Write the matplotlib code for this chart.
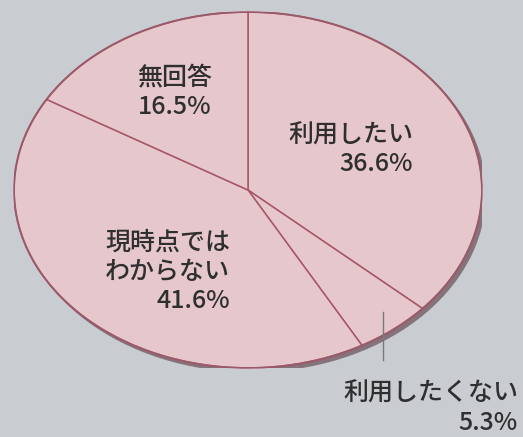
import numpy as np
import matplotlib
matplotlib.use('Agg')
import matplotlib.pyplot as plt
from matplotlib.patches import Ellipse

plt.rcParams['font.family'] = ['Noto Sans CJK JP', 'DejaVu Sans']

labels = ['利用したい', '利用したくない', '現時点では\nわからない', '無回答']
values = [36.6, 5.3, 41.6, 16.5]

bg = '#c9ccd0'
fill = '#e6c7cc'
edge = '#a8566a'

fig = plt.figure(figsize=(5.23, 4.37), dpi=100, facecolor=bg)
ax = fig.add_axes([14 / 523, (437 - 368) / 437, 468 / 523, 356 / 437])
ax.set_facecolor(bg)

# soft shadow under the disc
ax.add_patch(Ellipse((0.014, -0.02), 2.0, 2.0, color='#84737a', zorder=0))

wedges, _ = ax.pie(values, startangle=90, counterclock=False, colors=[fill] * 4,
                   wedgeprops=dict(edgecolor=edge, linewidth=1.1))
ax.add_patch(Ellipse((0, 0), 2.0, 2.0, fill=False, edgecolor='#9a5a6a', lw=1.4, zorder=5))
ax.set_aspect('auto')
ax.set_xlim(-1, 1)
ax.set_ylim(-1, 1)
ax.axis('off')

# leader tick for the small slice
mid = np.deg2rad(90 - 360 * (values[0] + values[1] / 2) / 100)
x0 = 0.92 * np.cos(mid)
ax.plot([x0, x0], [-0.685, -0.955], color='#7a7a7a', lw=1.0, clip_on=False, zorder=6)

txt = dict(fontsize=18, color='#2f2f2f', ha='right', va='center', fontweight='medium',
           multialignment='right', linespacing=1.15, zorder=7)
ax.text(0.705, 0.225, f'{labels[0]}\n{values[0]}%', **txt)
ax.text(-0.077, -0.46, f'{labels[2]}\n{values[2]}%', **txt)
ax.text(-0.154, 0.55, f'{labels[3]}\n{values[3]}%', **txt)
ax.text(1.154, -1.225, f'{labels[1]}\n{values[1]}%', clip_on=False, **txt)

fig.savefig('out.png', dpi=100, facecolor=bg)
